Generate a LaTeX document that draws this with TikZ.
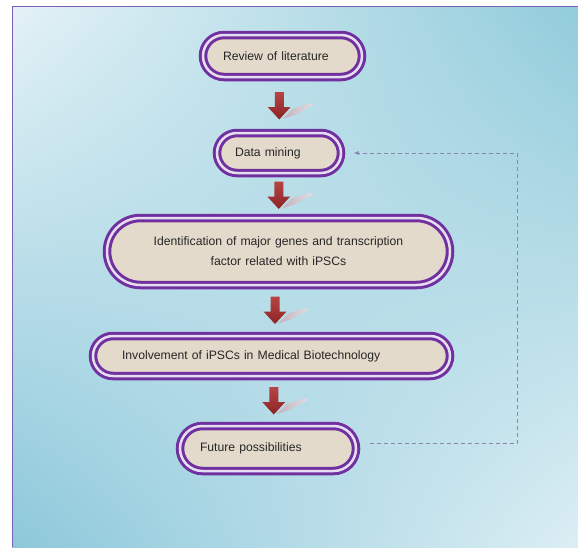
\documentclass[tikz,border=0pt]{standalone}
\usepackage{fontspec}
\setmainfont{Liberation Sans}
\usetikzlibrary{calc,arrows.meta,shadings}
\definecolor{pur}{HTML}{7030A0}
\definecolor{gapc}{HTML}{E6DEF0}
\definecolor{beige}{HTML}{E4DACB}
\definecolor{arrd}{HTML}{8A2424}
\definecolor{arrl}{HTML}{B84444}
\definecolor{fbc}{HTML}{8C84AC}
\definecolor{frame}{HTML}{7B5FB5}
\definecolor{bgul}{HTML}{E4F2F7}
\definecolor{bgur}{HTML}{92CCDB}
\definecolor{bgll}{HTML}{8CC8DA}
\definecolor{bglr}{HTML}{DCEEF4}
\definecolor{shd}{HTML}{C9A2AE}
\begin{document}
\begin{tikzpicture}[x=1pt,y=-1pt,
  stagebox/.style={rectangle, draw=pur, line width=3pt, double=gapc, double distance=2.5pt,
    fill=beige, font=\fontsize{12.2}{20}\selectfont, text=black!85, align=left, inner ysep=0pt},
  fb/.style={draw=fbc, line width=1pt, dash pattern=on 4pt off 3pt, -{Latex[length=5pt,width=4pt]}},
  dnarrow/.pic={
    \shade[left color=shd, right color=shd!35!white, opacity=0.75] (3,13) -- (13,3) -- (31,-3) -- (34,-1) -- (16,9) -- cycle;
    \shade[top color=arrl, bottom color=arrd] (-4.5,-14) -- (4.5,-14) -- (4.5,1) -- (11.5,1) -- (0,13.5) -- (-11.5,1) -- (-4.5,1) -- cycle;
  }]
% background
\fill[white] (0,0) rectangle (578,547);
\path[use as bounding box] (0,0) rectangle (578,547);
\shade[upper left=bgul, upper right=bgur, lower left=bgll, lower right=bglr] (12,6) rectangle (578,547);
\draw[frame, line width=1pt] (12,547) -- (12,6) -- (578,6);

% stages
\node[stagebox, rounded corners=21pt, minimum height=42pt, inner xsep=20pt, text width=119pt] (rev) at (282.5,56) {Review of literature};
\node[stagebox, rounded corners=20pt, minimum height=40pt, inner xsep=18pt, text width=88pt] (dm) at (279,153) {Data mining};
\node[stagebox, rounded corners=33.5pt, minimum height=67pt, inner xsep=20pt, text width=303pt, align=center] (idf) at (278.5,251.5) {Identification of major genes and transcription\\factor related with iPSCs};
\node[stagebox, rounded corners=20pt, minimum height=40pt, inner xsep=29pt, text width=299pt] (inv) at (271.5,356) {Involvement of iPSCs in Medical Biotechnology};
\node[stagebox, rounded corners=22.5pt, minimum height=45pt, inner xsep=20pt, text width=136pt] (fut) at (268,448.5) {Future possibilities};

% red arrows
\pic at ($(rev.south)!0.5!(dm.north)+(-1.5,1)$) {dnarrow};
\pic at ($(dm.south)!0.5!(idf.north)$) {dnarrow};
\pic at ($(idf.south)!0.5!(inv.north)$) {dnarrow};
\pic at ($(inv.south)!0.5!(fut.north)+(4,0)$) {dnarrow};

% feedback
\coordinate (fbr) at (517,153);
\draw[fb] ([xshift=12pt,yshift=5.5pt]fut.east) -| (fbr) -- ([xshift=11pt]dm.east);
\end{tikzpicture}
\end{document}
